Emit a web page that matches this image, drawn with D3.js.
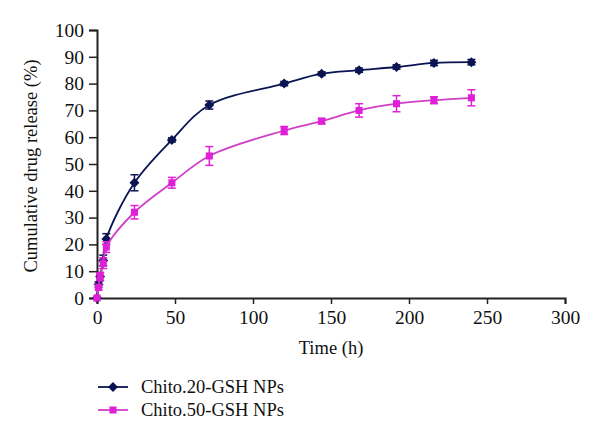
<!DOCTYPE html>
<html><head><meta charset="utf-8">
<script src="https://cdn.jsdelivr.net/npm/d3@7"></script>
<style>body{margin:0;background:#fff}svg{display:block}text{font-family:"Liberation Serif","Times New Roman",serif}</style>
</head><body><svg id="c" width="600" height="442"></svg>
<script>
const times = [0, 1, 2, 4, 6, 24, 48, 72, 120, 144, 168, 192, 216, 240];
const chito20 = [0, 5, 8, 14, 22, 43, 59, 72, 80, 83.7, 85, 86.2, 87.7, 88];
const chito20Err = [0.5, 1, 1.5, 2, 2, 3, 0.8, 1.5, 0.8, 0.7, 0.8, 0.8, 1, 1];
const chito50 = [0, 4, 8, 13, 19, 32, 43, 53, 62.5, 66, 70, 72.5, 73.8, 74.7];
const chito50Err = [0.5, 1, 1.5, 2, 2, 2.5, 2, 3.5, 1.5, 1, 2.5, 3, 1.3, 3];
const xTicks = [0, 50, 100, 150, 200, 250, 300];
const yTicks = [0, 10, 20, 30, 40, 50, 60, 70, 80, 90, 100];
const seriesNames = ["Chito.20-GSH NPs", "Chito.50-GSH NPs"];

const svg = d3.select("#c");
const L = 97, R = 565, T = 30, B = 298;
const x = d3.scaleLinear().domain([0, 300]).range([L, R]);
const y = d3.scaleLinear().domain([0, 100]).range([B, T]);

const ax = svg.append("g").attr("transform", `translate(0,${B})`)
  .call(d3.axisBottom(x).tickValues(xTicks).tickSize(6).tickPadding(5).tickFormat(d3.format("d")));
const ay = svg.append("g").attr("transform", `translate(${L},0)`)
  .call(d3.axisLeft(y).tickValues(yTicks).tickSize(8).tickPadding(5).tickFormat(d3.format("d")));
[ax, ay].forEach(g => {
  g.selectAll("path").attr("stroke", "#222").attr("stroke-width", 2);
  g.selectAll("line").attr("stroke", "#222").attr("stroke-width", 1.5);
  g.selectAll("text").attr("font-size", 19.5).attr("fill", "#111")
    .attr("font-family", '"Liberation Serif","Times New Roman",serif');
});
ax.selectAll("text").attr("dy", "0.78em");

const diamond = {draw(ctx, size) { const r = Math.sqrt(size / 2); ctx.moveTo(0, -r); ctx.lineTo(r, 0); ctx.lineTo(0, r); ctx.lineTo(-r, 0); ctx.closePath(); }};
const series = [
  {name: seriesNames[0], vals: chito20, err: chito20Err, color: "#0b1452", line: "#0b1452", shape: diamond, size: 50},
  {name: seriesNames[1], vals: chito50, err: chito50Err, color: "#e020d8", line: "#d040c8", shape: d3.symbolSquare, size: 50}
];
const line = d3.line().x((d, i) => x(times[i])).y(d => y(d)).curve(d3.curveCatmullRom.alpha(0.5));

series.forEach(s => {
  const g = svg.append("g");
  g.append("path").datum(s.vals).attr("d", line).attr("fill", "none").attr("stroke", s.line).attr("stroke-width", 1.8);
  s.vals.forEach((v, i) => {
    const cx = x(times[i]), e = s.err[i];
    g.append("line").attr("x1", cx).attr("x2", cx).attr("y1", y(v - e)).attr("y2", y(v + e)).attr("stroke", s.color).attr("stroke-width", 1.5);
    [v - e, v + e].forEach(t => g.append("line").attr("x1", cx - 4).attr("x2", cx + 4).attr("y1", y(t)).attr("y2", y(t)).attr("stroke", s.color).attr("stroke-width", 1.5));
    g.append("path").attr("d", d3.symbol().type(s.shape).size(s.size)()).attr("transform", `translate(${cx},${y(v)})`).attr("fill", s.color);
  });
});

svg.append("text").attr("transform", "translate(37,166) rotate(-90)").attr("text-anchor", "middle")
  .attr("font-size", 18.5).attr("fill", "#111").text("Cumulative drug release (%)");
svg.append("text").attr("x", 331).attr("y", 354).attr("text-anchor", "middle")
  .attr("font-size", 18.5).attr("fill", "#111").text("Time (h)");

series.forEach((s, i) => {
  const ly = 387 + i * 23;
  svg.append("line").attr("x1", 98).attr("x2", 128).attr("y1", ly).attr("y2", ly).attr("stroke", s.line).attr("stroke-width", 1.8);
  svg.append("path").attr("d", d3.symbol().type(s.shape).size(s.size)()).attr("transform", `translate(113,${ly})`).attr("fill", s.color);
  svg.append("text").attr("x", 141).attr("y", ly + 6).attr("font-size", 18.5).attr("fill", "#111").text(s.name);
});
</script></body></html>
